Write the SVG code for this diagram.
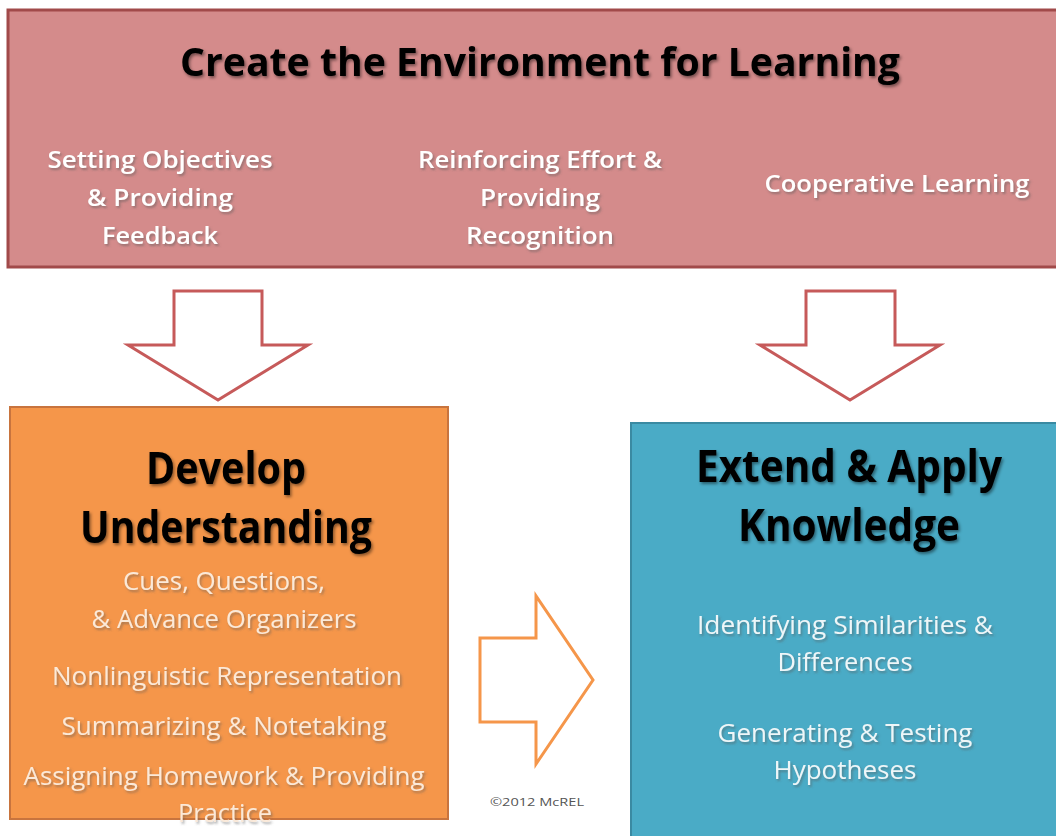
<svg xmlns="http://www.w3.org/2000/svg" width="1056" height="836" viewBox="0 0 1056 836">
<defs>
<filter id="sh" x="-10%" y="-30%" width="120%" height="160%">
<feDropShadow dx="1.5" dy="2" stdDeviation="1.5" flood-color="#000" flood-opacity="0.45"/>
</filter>
<filter id="shl" x="-10%" y="-30%" width="120%" height="160%">
<feDropShadow dx="1.5" dy="2" stdDeviation="1.2" flood-color="#555" flood-opacity="0.5"/>
</filter>
</defs>
<style>
text{font-family:"Open Sans","Liberation Sans",sans-serif;text-anchor:middle}
.h{font-weight:bold;fill:#000;filter:url(#sh)}
.t1{font-size:40px}
.t2{font-size:44px}
.s{font-size:24px;font-weight:600;fill:#fff;filter:url(#shl)}
.o{font-size:26px;fill:#fbe9d8;filter:url(#shl)}
.b{font-size:26px;fill:#eef6f8;filter:url(#shl)}
.arr{fill:#fff;stroke-width:3;stroke-linejoin:miter}
</style>
<rect width="1056" height="836" fill="#fff"/>
<g id="environment">
<rect x="8" y="10" width="1060" height="257" fill="#d48b8b" stroke="#a14a4a" stroke-width="3"/>
<text class="h t1" x="540" y="76" textLength="720" lengthAdjust="spacingAndGlyphs">Create the Environment for Learning</text>
<text class="s" x="160" y="168" textLength="225" lengthAdjust="spacingAndGlyphs">Setting Objectives</text>
<text class="s" x="160" y="206" textLength="146" lengthAdjust="spacingAndGlyphs">&amp; Providing</text>
<text class="s" x="160" y="244" textLength="116" lengthAdjust="spacingAndGlyphs">Feedback</text>
<text class="s" x="540" y="168" textLength="244" lengthAdjust="spacingAndGlyphs">Reinforcing Effort &amp;</text>
<text class="s" x="540" y="206" textLength="120" lengthAdjust="spacingAndGlyphs">Providing</text>
<text class="s" x="540" y="244" textLength="148" lengthAdjust="spacingAndGlyphs">Recognition</text>
<text class="s" x="897" y="192" textLength="265" lengthAdjust="spacingAndGlyphs">Cooperative Learning</text>
</g>
<g id="develop">
<rect x="10" y="407" width="438" height="412" fill="#f5964a" stroke="#c8743e" stroke-width="2"/>
<text class="h t2" x="226" y="484" textLength="160" lengthAdjust="spacingAndGlyphs">Develop</text>
<text class="h t2" x="226" y="543" textLength="292" lengthAdjust="spacingAndGlyphs">Understanding</text>
<text class="o" x="224" y="590" textLength="202" lengthAdjust="spacingAndGlyphs">Cues, Questions,</text>
<text class="o" x="224" y="628" textLength="265" lengthAdjust="spacingAndGlyphs">&amp; Advance Organizers</text>
<text class="o" x="227" y="685" textLength="350" lengthAdjust="spacingAndGlyphs">Nonlinguistic Representation</text>
<text class="o" x="224" y="735" textLength="325" lengthAdjust="spacingAndGlyphs">Summarizing &amp; Notetaking</text>
<text class="o" x="224" y="785" textLength="401" lengthAdjust="spacingAndGlyphs">Assigning Homework &amp; Providing</text>
<text class="o" x="225" y="822" textLength="94" lengthAdjust="spacingAndGlyphs">Practice</text>
</g>
<g id="extend">
<rect x="631" y="423" width="440" height="430" fill="#4aabc6" stroke="#3a8aa2" stroke-width="2"/>
<text class="h t2" x="849" y="482" textLength="306" lengthAdjust="spacingAndGlyphs">Extend &amp; Apply</text>
<text class="h t2" x="849" y="541" textLength="222" lengthAdjust="spacingAndGlyphs">Knowledge</text>
<text class="b" x="845" y="634" textLength="296" lengthAdjust="spacingAndGlyphs">Identifying Similarities &amp;</text>
<text class="b" x="845" y="671" textLength="135" lengthAdjust="spacingAndGlyphs">Differences</text>
<text class="b" x="845" y="742" textLength="255" lengthAdjust="spacingAndGlyphs">Generating &amp; Testing</text>
<text class="b" x="845" y="779" textLength="143" lengthAdjust="spacingAndGlyphs">Hypotheses</text>
</g>
<g id="connectors">
<polygon class="arr" stroke="#c65a5a" points="174,291 262,291 262,345 308,345 218,400 128,345 174,345"/>
<polygon class="arr" stroke="#c65a5a" points="806,291 895,291 895,345 940,345 850,400 760,345 806,345"/>
<polygon class="arr" stroke="#f5964a" points="480,638 536,638 536,596 593,680 536,764 536,722 480,722"/>
</g>
<text x="537" y="806" font-size="11" fill="#555" textLength="94" lengthAdjust="spacingAndGlyphs">©2012 McREL</text>
</svg>
